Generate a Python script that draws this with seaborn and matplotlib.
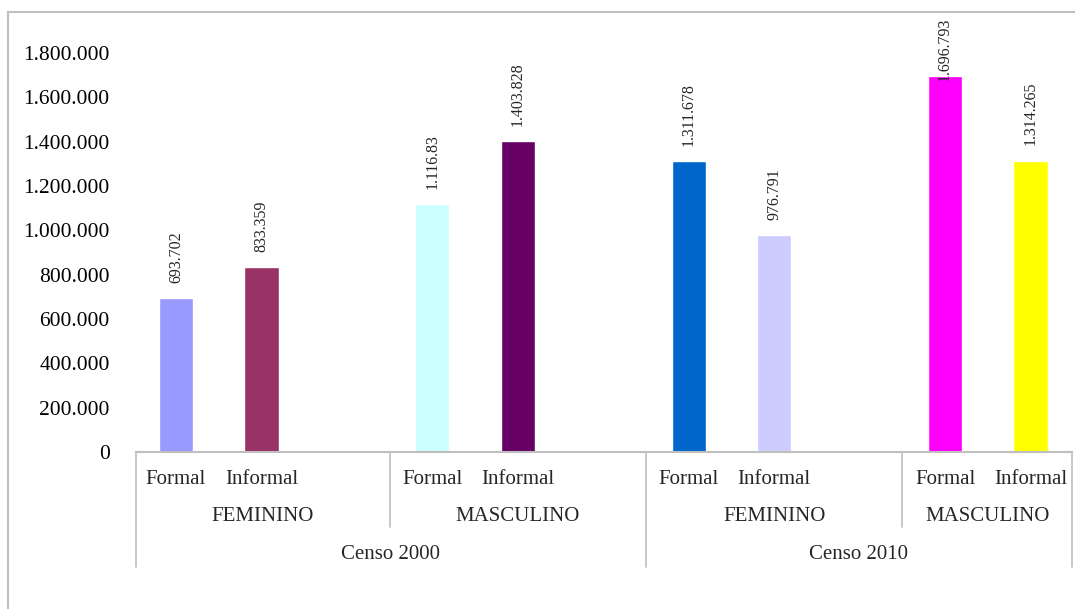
import matplotlib
matplotlib.use("Agg")
import matplotlib.pyplot as plt
import matplotlib.transforms as mtransforms
from matplotlib.patches import Rectangle
from matplotlib.lines import Line2D
from matplotlib.ticker import FuncFormatter
import seaborn as sns
import pandas as pd

# Trabalhadores por tipo de vínculo, sexo e censo
censos = ["Censo 2000", "Censo 2010"]
sexos = ["FEMININO", "MASCULINO", "FEMININO", "MASCULINO"]
tipos = ["Formal", "Informal"]
valores = [693702, 833359, 1116830, 1403828, 1311678, 976791, 1696793, 1314265]
rotulos = ["693.702", "833.359", "1.116.83", "1.403.828",
           "1.311.678", "976.791", "1.696.793", "1.314.265"]
cores = ["#9999FF", "#993366", "#CCFFFF", "#660066",
         "#0066CC", "#CCCCFF", "#FF00FF", "#FFFF00"]
yticks = [0, 200000, 400000, 600000, 800000, 1000000,
          1200000, 1400000, 1600000, 1800000]

# each sex group takes three slots: Formal, Informal and a gap
posicoes = [3 * g + t for g in range(len(sexos)) for t in range(len(tipos))]
df = pd.DataFrame({
    "pos": posicoes,
    "valor": valores,
    "tipo": tipos * len(sexos),
    "barra": [str(p) for p in posicoes],
})

sns.set_style("white")
plt.rcParams["font.family"] = ["Liberation Serif", "DejaVu Serif"]

W, H = 1075, 609
fig = plt.figure(figsize=(W / 100, H / 100), dpi=100)
left_px, right_px, top_px, base_px = 136, 1072, 53, 452
ax = fig.add_axes([left_px / W, 1 - base_px / H,
                   (right_px - left_px) / W, (base_px - top_px) / H])

sns.barplot(data=df, x="pos", y="valor", hue="barra", palette=cores,
            native_scale=True, dodge=False, width=0.4, errorbar=None,
            legend=False, saturation=1, ax=ax)

ax.set_xlim(-0.468, 10.486)
ax.set_ylim(0, 1800000)
ax.set_yticks(yticks)
ax.yaxis.set_major_formatter(FuncFormatter(lambda v, _: f"{int(v):,}".replace(",", ".")))
ax.tick_params(axis="y", length=0, pad=19, labelsize=15.5, labelcolor="black")
ax.set_xticks([])
ax.set_xlabel("")
ax.set_ylabel("")
for s in ["left", "top", "right"]:
    ax.spines[s].set_visible(False)
ax.spines["bottom"].set_color("#BFBFBF")
ax.spines["bottom"].set_linewidth(1.5)

# value labels above bars; a label that would leave the chart starts at the bar top
ymax = ax.get_ylim()[1]
for p, v, r in zip(posicoes, valores, rotulos):
    dy = 11 if v < 0.85 * ymax else -4
    ax.annotate(r, (p, v), xytext=(0, dy), textcoords="offset points",
                rotation=90, ha="center", va="bottom", fontsize=11.5,
                annotation_clip=False)

# category table under the axis
trans = mtransforms.blended_transform_factory(ax.transData, fig.transFigure)
fy = lambda px: 1 - px / H
for p, t in zip(posicoes, tipos * len(sexos)):
    ax.text(p, fy(484), t, transform=trans, ha="center", va="baseline", fontsize=15)

xmin, xmax = ax.get_xlim()
limites = [xmin, 2.5, 5.5, 8.5, xmax]
for i, s in enumerate(sexos):
    ax.text((limites[i] + limites[i + 1]) / 2, fy(521), s, transform=trans,
            ha="center", va="baseline", fontsize=15)
censo_lim = [xmin, 5.5, xmax]
for i, c in enumerate(censos):
    ax.text((censo_lim[i] + censo_lim[i + 1]) / 2, fy(559), c, transform=trans,
            ha="center", va="baseline", fontsize=15)

linha = dict(color="#BFBFBF", linewidth=1.2, transform=trans, clip_on=False)
for x in [xmin, 5.5, xmax]:
    fig.add_artist(Line2D([x, x], [fy(base_px), fy(567)], **linha))
for x in [2.5, 8.5]:
    fig.add_artist(Line2D([x, x], [fy(base_px), fy(527)], **linha))

# outer chart frame
fig.add_artist(Rectangle((8 / W, -0.2), 1.2, fy(12) + 0.2, transform=fig.transFigure,
                         fill=False, edgecolor="#BFBFBF", linewidth=1.5))

fig.savefig("out.png", dpi=100)
